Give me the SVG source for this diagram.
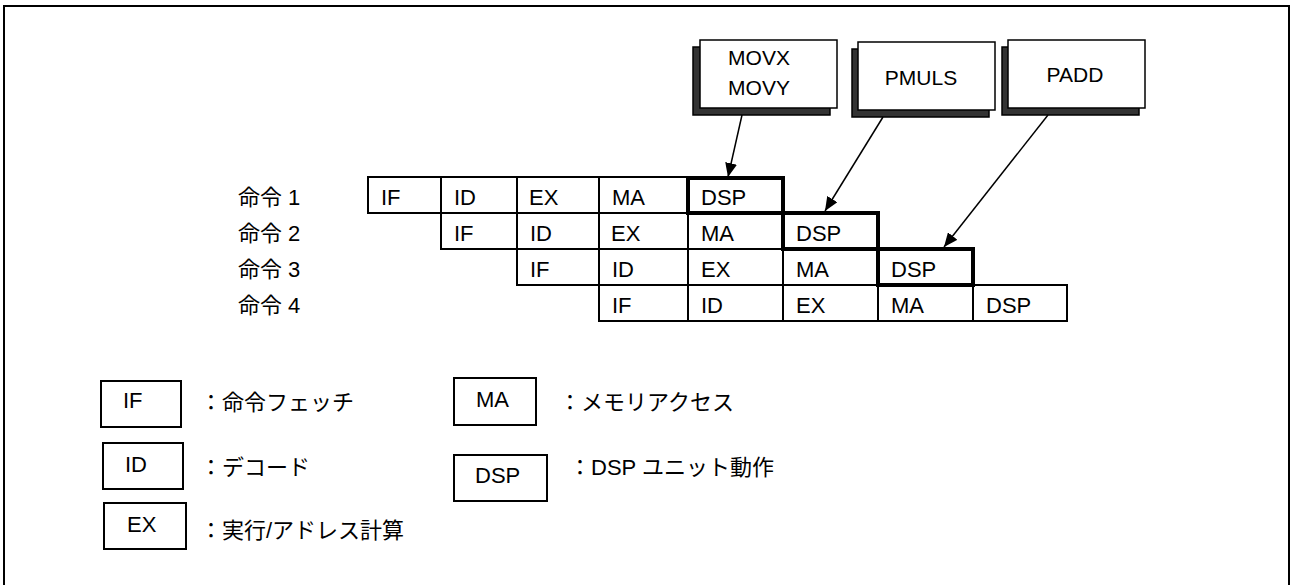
<svg xmlns="http://www.w3.org/2000/svg" width="1290" height="585" viewBox="0 0 1290 585">
<style>
text{font-family:"Liberation Sans","Noto Sans CJK JP",Arial,sans-serif;fill:#000}
.t{font-size:22px}
.c{font-size:21px;text-anchor:middle}
.cell{fill:#fff;stroke:#000;stroke-width:2}
.thick{fill:none;stroke:#000;stroke-width:4}
.box{fill:#fff;stroke:#000;stroke-width:1.5}
.shadow{fill:#333;stroke:#000;stroke-width:1.5}
.lg{fill:#fff;stroke:#000;stroke-width:2}
.conn{stroke:#000;stroke-width:1.5;fill:none;marker-end:url(#ah)}
</style>
<defs>
<marker id="ah" markerUnits="userSpaceOnUse" markerWidth="16" markerHeight="12" refX="14" refY="6" orient="auto">
<path d="M0,0 L14,6 L0,12 Z" fill="#000"/>
</marker>
</defs>
<rect x="4" y="6" width="1285" height="590" fill="#fff" stroke="#000" stroke-width="2"/>

<g id="callout-movx">
<rect class="shadow" x="693" y="47" width="137" height="68"/>
<rect class="box" x="700" y="40" width="137" height="68"/>
<text class="c" x="759" y="65">MOVX</text>
<text class="c" x="759" y="95">MOVY</text>
</g>
<g id="callout-pmuls">
<rect class="shadow" x="852" y="49" width="137" height="68"/>
<rect class="box" x="858" y="42" width="137" height="68"/>
<text class="c" x="921" y="85">PMULS</text>
</g>
<g id="callout-padd">
<rect class="shadow" x="1002" y="47" width="137" height="68"/>
<rect class="box" x="1008" y="40" width="137" height="68"/>
<text class="c" x="1075" y="82">PADD</text>
</g>

<g id="labels" class="t">
<text class="t" x="238" y="205">命令 1</text>
<text class="t" x="238" y="241">命令 2</text>
<text class="t" x="238" y="277">命令 3</text>
<text class="t" x="238" y="313">命令 4</text>
</g>

<g id="row1">
<rect class="cell" x="368" y="177" width="73" height="36"/>
<rect class="cell" x="441" y="177" width="76" height="36"/>
<rect class="cell" x="517" y="177" width="82" height="36"/>
<rect class="cell" x="599" y="177" width="89" height="36"/>
<text class="t" x="381" y="205">IF</text>
<text class="t" x="454" y="205">ID</text>
<text class="t" x="529" y="205">EX</text>
<text class="t" x="612" y="205">MA</text>
<text class="t" x="701" y="205">DSP</text>
</g>
<g id="row2">
<rect class="cell" x="441" y="213" width="76" height="36"/>
<rect class="cell" x="517" y="213" width="82" height="36"/>
<rect class="cell" x="599" y="213" width="89" height="36"/>
<rect class="cell" x="688" y="213" width="95" height="36"/>
<text class="t" x="454" y="241">IF</text>
<text class="t" x="530" y="241">ID</text>
<text class="t" x="611" y="241">EX</text>
<text class="t" x="701" y="241">MA</text>
<text class="t" x="796" y="241">DSP</text>
</g>
<g id="row3">
<rect class="cell" x="517" y="249" width="82" height="36"/>
<rect class="cell" x="599" y="249" width="89" height="36"/>
<rect class="cell" x="688" y="249" width="95" height="36"/>
<rect class="cell" x="783" y="249" width="95" height="36"/>
<text class="t" x="530" y="277">IF</text>
<text class="t" x="612" y="277">ID</text>
<text class="t" x="701" y="277">EX</text>
<text class="t" x="796" y="277">MA</text>
<text class="t" x="891" y="277">DSP</text>
</g>
<g id="row4">
<rect class="cell" x="599" y="285" width="89" height="36"/>
<rect class="cell" x="688" y="285" width="95" height="36"/>
<rect class="cell" x="783" y="285" width="95" height="36"/>
<rect class="cell" x="878" y="285" width="95" height="36"/>
<rect class="cell" x="973" y="285" width="94" height="36"/>
<text class="t" x="612" y="313">IF</text>
<text class="t" x="701" y="313">ID</text>
<text class="t" x="796" y="313">EX</text>
<text class="t" x="891" y="313">MA</text>
<text class="t" x="986" y="313">DSP</text>
</g>
<g id="dsp-highlight">
<rect class="thick" x="688" y="178" width="95" height="35"/>
<rect class="thick" x="783" y="213" width="95" height="36"/>
<rect class="thick" x="878" y="249" width="95" height="36"/>
</g>

<g id="connectors">
<line class="conn" x1="742" y1="115" x2="728" y2="177"/>
<line class="conn" x1="883" y1="117" x2="825" y2="211"/>
<line class="conn" x1="1048" y1="115" x2="944" y2="247"/>
</g>

<g id="legend-if">
<rect class="lg" x="101" y="381" width="80" height="46"/>
<text class="t" x="123" y="408">IF</text>
<text class="t" x="200" y="410">：命令フェッチ</text>
</g>
<g id="legend-id">
<rect class="lg" x="103" y="443" width="80" height="46"/>
<text class="t" x="125" y="472">ID</text>
<text class="t" x="200" y="475">：デコード</text>
</g>
<g id="legend-ex">
<rect class="lg" x="104" y="503" width="82" height="46"/>
<text class="t" x="127" y="532">EX</text>
<text class="t" x="200" y="538">：実行/アドレス計算</text>
</g>
<g id="legend-ma">
<rect class="lg" x="454" y="378" width="82" height="47"/>
<text class="t" x="476" y="407">MA</text>
<text class="t" x="559" y="410">：メモリアクセス</text>
</g>
<g id="legend-dsp">
<rect class="lg" x="454" y="455" width="93" height="46"/>
<text class="t" x="475" y="483">DSP</text>
<text class="t" x="569" y="475">：DSP ユニット動作</text>
</g>
</svg>
